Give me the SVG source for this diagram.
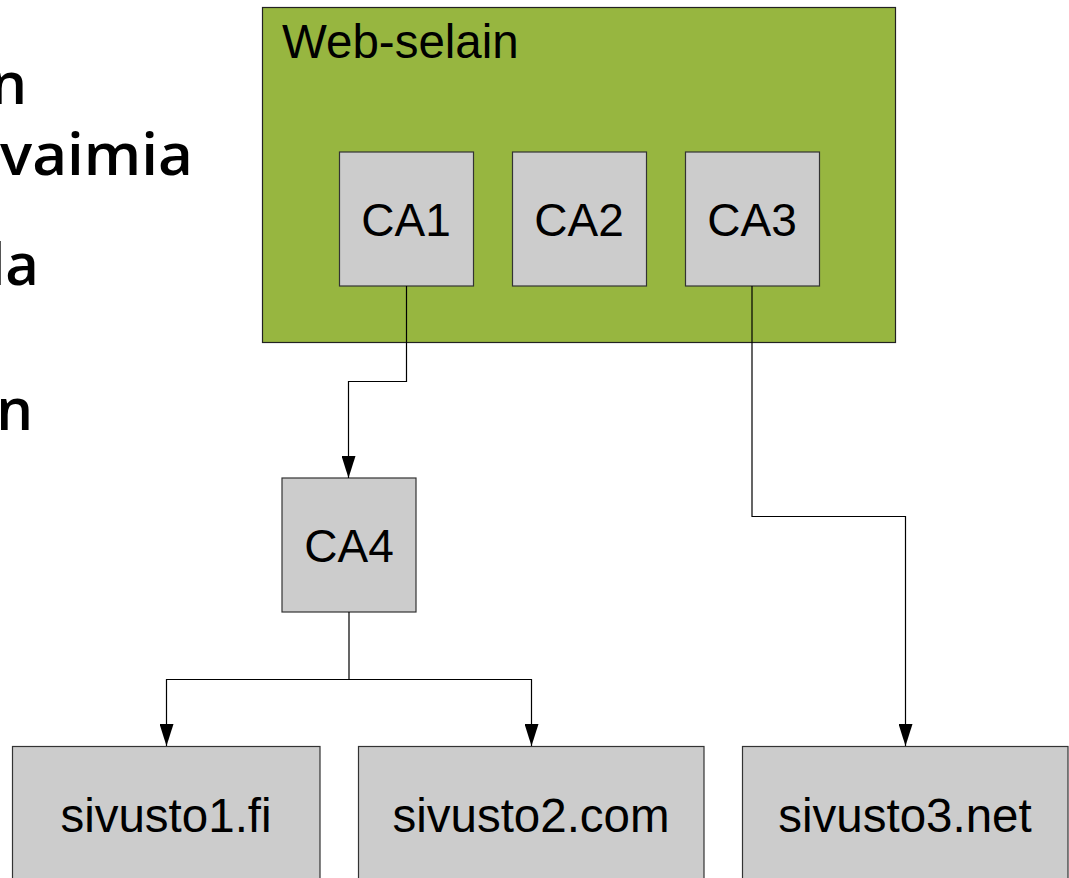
<svg xmlns="http://www.w3.org/2000/svg" width="1069" height="878" viewBox="0 0 1069 878">
  <style>
    .box { fill: #cccccc; stroke: #333333; stroke-width: 1.2; }
    .browser { fill: #97b640; stroke: #222222; stroke-width: 1.2; }
    .lbl { font-family: "Liberation Sans", Arial, sans-serif; font-size: 46px; fill: #000000; }
    .title { font-size: 47.5px; }
    .site { font-family: "Liberation Sans", Arial, sans-serif; font-size: 47.5px; fill: #000000; text-anchor: middle; }
    .ca { text-anchor: middle; }
    .side { font-family: "Open Sans", "Noto Sans", sans-serif; font-weight: 600; font-size: 58px; fill: #000000; text-anchor: end; }
    .wire { fill: none; stroke: #000000; stroke-width: 1.2; }
  </style>
  <defs>
    <marker id="arrow" viewBox="0 0 22 14" refX="22" refY="7" markerWidth="22" markerHeight="14" markerUnits="userSpaceOnUse" orient="auto">
      <path d="M0,0 L22,7 L0,14 Z" fill="#000000"/>
    </marker>
  </defs>

  <rect width="1069" height="878" fill="#ffffff"/>

  <!-- text cut off at the left edge -->
  <g id="side-text">
    <text class="side" x="27" y="104">n</text>
    <text class="side" x="193" y="175" textLength="193" lengthAdjust="spacingAndGlyphs">vaimia</text>
    <text class="side" x="39" y="285">la</text>
    <text class="side" x="33" y="430">n</text>
  </g>

  <g id="web-selain">
    <rect class="browser" x="262.5" y="7.5" width="633" height="335"/>
    <text class="lbl title" x="282" y="58">Web-selain</text>
  </g>

  <g id="ca1">
    <rect class="box" x="339.5" y="152" width="134" height="134"/>
    <text class="lbl ca" x="406" y="236">CA1</text>
  </g>
  <g id="ca2">
    <rect class="box" x="512.5" y="152" width="134" height="134"/>
    <text class="lbl ca" x="579" y="236">CA2</text>
  </g>
  <g id="ca3">
    <rect class="box" x="685.5" y="152" width="134" height="134"/>
    <text class="lbl ca" x="752" y="236">CA3</text>
  </g>
  <g id="ca4">
    <rect class="box" x="282" y="478" width="134" height="134"/>
    <text class="lbl ca" x="349" y="562">CA4</text>
  </g>

  <g id="sivusto1">
    <rect class="box" x="12.5" y="746.5" width="307.5" height="140"/>
    <text class="site" x="166" y="832">sivusto1.fi</text>
  </g>
  <g id="sivusto2">
    <rect class="box" x="358.5" y="746.5" width="345.5" height="140"/>
    <text class="site" x="531" y="832">sivusto2.com</text>
  </g>
  <g id="sivusto3">
    <rect class="box" x="742.5" y="746.5" width="325.5" height="140"/>
    <text class="site" x="905" y="832">sivusto3.net</text>
  </g>

  <g id="connectors">
    <path class="wire" d="M406.5,286 V381.5 H348.5 V478" marker-end="url(#arrow)"/>
    <path class="wire" d="M752,286 V516.5 H905.5 V746" marker-end="url(#arrow)"/>
    <path class="wire" d="M349,612 V679.5 H166.5 V746" marker-end="url(#arrow)"/>
    <path class="wire" d="M349,679.5 H531.5 V746" marker-end="url(#arrow)"/>
  </g>
</svg>
